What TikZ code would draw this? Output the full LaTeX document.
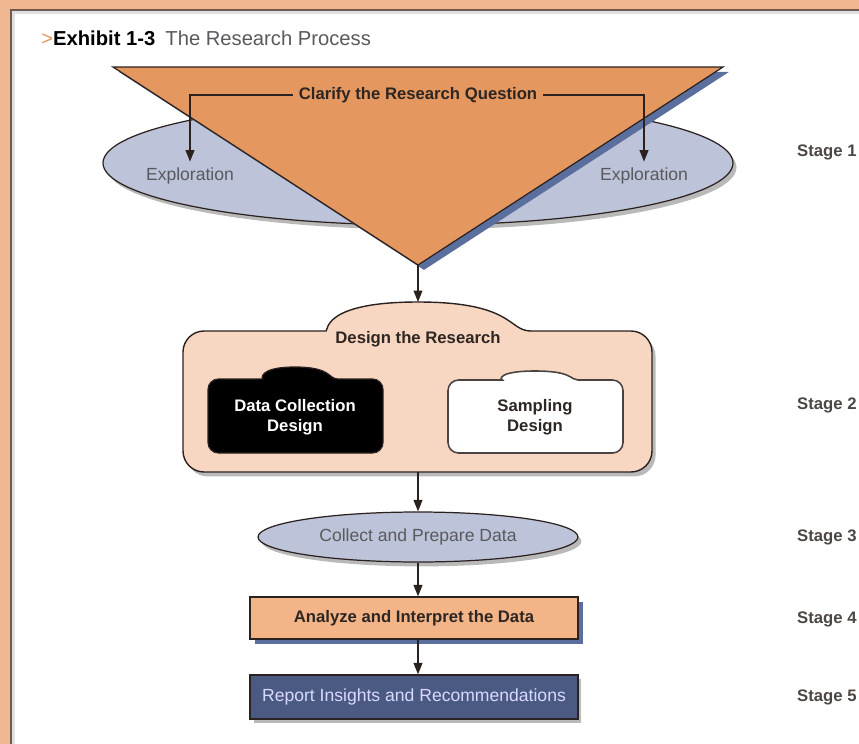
\documentclass[tikz,border=0pt]{standalone}
\usepackage{fontspec}
\setmainfont{Liberation Sans}
\usetikzlibrary{arrows.meta,shapes.geometric,shadows}
\definecolor{frameorange}{HTML}{EFB890}
\definecolor{framedark}{HTML}{6E5A4E}
\definecolor{triorange}{HTML}{E4975F}
\definecolor{lavender}{HTML}{BDC3D8}
\definecolor{shadowblue}{HTML}{5B6F9E}
\definecolor{designpeach}{HTML}{F8D7C2}
\definecolor{analyzepeach}{HTML}{F3B488}
\definecolor{reportblue}{HTML}{4B5A82}
\definecolor{outline}{HTML}{2B2220}
\definecolor{textdark}{HTML}{2E2622}
\definecolor{textgray}{HTML}{5A5A5E}
\begin{document}
\begin{tikzpicture}[x=0.02cm,y=-0.02cm,
  flow/.style={-{Triangle[length=6.5pt,width=5pt]},line width=0.8pt,outline},
  boldlabel/.style={font=\fontsize{9.5}{11.5}\selectfont\bfseries,text=textdark,align=center},
  graylabel/.style={font=\fontsize{10}{12}\selectfont,text=textgray},
  stagelabel/.style={anchor=west,font=\fontsize{9.5}{11.5}\selectfont\bfseries,text=textdark!85},
  grayshadow/.style={drop shadow={shadow xshift=2pt,shadow yshift=-2.5pt,fill=black!50,opacity=.55}},
  blueshadow/.style={drop shadow={shadow xshift=3pt,shadow yshift=-3pt,fill=shadowblue,opacity=1}}]
\useasboundingbox (0,0) rectangle (859,744);
\fill[frameorange] (0,0) rectangle (859,744);
\fill[white] (11,10) rectangle (859,744);
\draw[line width=1.2pt,framedark] (11,744) -- (11,10) -- (859,10);
\draw[line width=1.5pt,black!12] (13.5,744) -- (13.5,12.5) -- (859,12.5);
\node[anchor=west,inner sep=0,font=\fontsize{11.5}{13}\selectfont] (title) at (41,38)
  {\textcolor{triorange}{>}\textbf{Exhibit 1-3}\enspace\textcolor{textgray}{The Research Process}};
\draw[line width=0.7pt,outline,fill=lavender,grayshadow] (418,163) ellipse [x radius=315,y radius=62];
\draw[line width=0.7pt,outline,fill=triorange,drop shadow={shadow xshift=3.4pt,shadow yshift=-2.8pt,fill=shadowblue,opacity=1}]
  (113,67) -- (723,67) -- (418,265) -- cycle;
\coordinate (apex) at (418,265);
\node[boldlabel] (clarify) at (418,95) {Clarify the Research Question};
\node[graylabel] (exploreL) at (190,176) {Exploration};
\node[graylabel] (exploreR) at (644,176) {Exploration};
\draw[flow] (clarify.west) -| (exploreL.north);
\draw[flow] (clarify.east) -| (exploreR.north);
\draw[line width=0.8pt,outline,fill=designpeach,grayshadow]
  (305,331) .. controls (328,331) and (322,302) .. (418,302)
  .. controls (514,302) and (508,331) .. (531,331) [rounded corners=12pt]
  -| (652,472) -| (183,331) -- cycle;
\coordinate (designtop) at (418,302);
\coordinate (designbottom) at (418,472);
\node[boldlabel] (designlabel) at (418,339) {Design the Research};
\draw[line width=0.7pt,outline,fill=black]
  (252,379) .. controls (262,379) and (258,367) .. (295,367)
  .. controls (332,367) and (328,379) .. (338,379) [rounded corners=6pt]
  -| (383,453) -| (208,379) -- cycle;
\draw[line width=0.9pt,outline!85,fill=white]
  (492,380) .. controls (500,380) and (497,371) .. (535,371)
  .. controls (573,371) and (570,380) .. (578,380) [rounded corners=6pt]
  -| (623,453) -| (448,380) -- cycle;
\node[boldlabel,text=white] (datacoll) at (295,417) {Data Collection\\Design};
\node[boldlabel] (sampling) at (535,417) {Sampling\\Design};
\node[ellipse,graylabel,draw=outline,line width=0.7pt,fill=lavender,grayshadow,
  minimum width=6.4cm,minimum height=1cm,inner sep=0] (collect) at (418,537) {Collect and Prepare Data};
\node[boldlabel,draw=outline,line width=0.7pt,fill=analyzepeach,blueshadow,
  minimum width=6.56cm,minimum height=0.84cm] (analyze) at (414,618) {Analyze and Interpret the Data};
\node[graylabel,text=white!85!blue,draw=outline,line width=0.7pt,fill=reportblue,grayshadow,
  minimum width=6.56cm,minimum height=0.88cm] (report) at (414,697) {Report Insights and Recommendations};
\draw[flow] (apex) -- (designtop);
\draw[flow] (designbottom) -- (collect.north);
\draw[flow] (collect.south) -- (collect.south |- analyze.north);
\draw[flow] (collect.south |- analyze.south) -- (collect.south |- report.north);
\node[stagelabel] (stage1) at (791,152) {Stage 1};
\node[stagelabel] (stage2) at (791,405) {Stage 2};
\node[stagelabel] (stage3) at (791,537) {Stage 3};
\node[stagelabel] (stage4) at (791,619) {Stage 4};
\node[stagelabel] (stage5) at (791,697) {Stage 5};
\end{tikzpicture}
\end{document}
